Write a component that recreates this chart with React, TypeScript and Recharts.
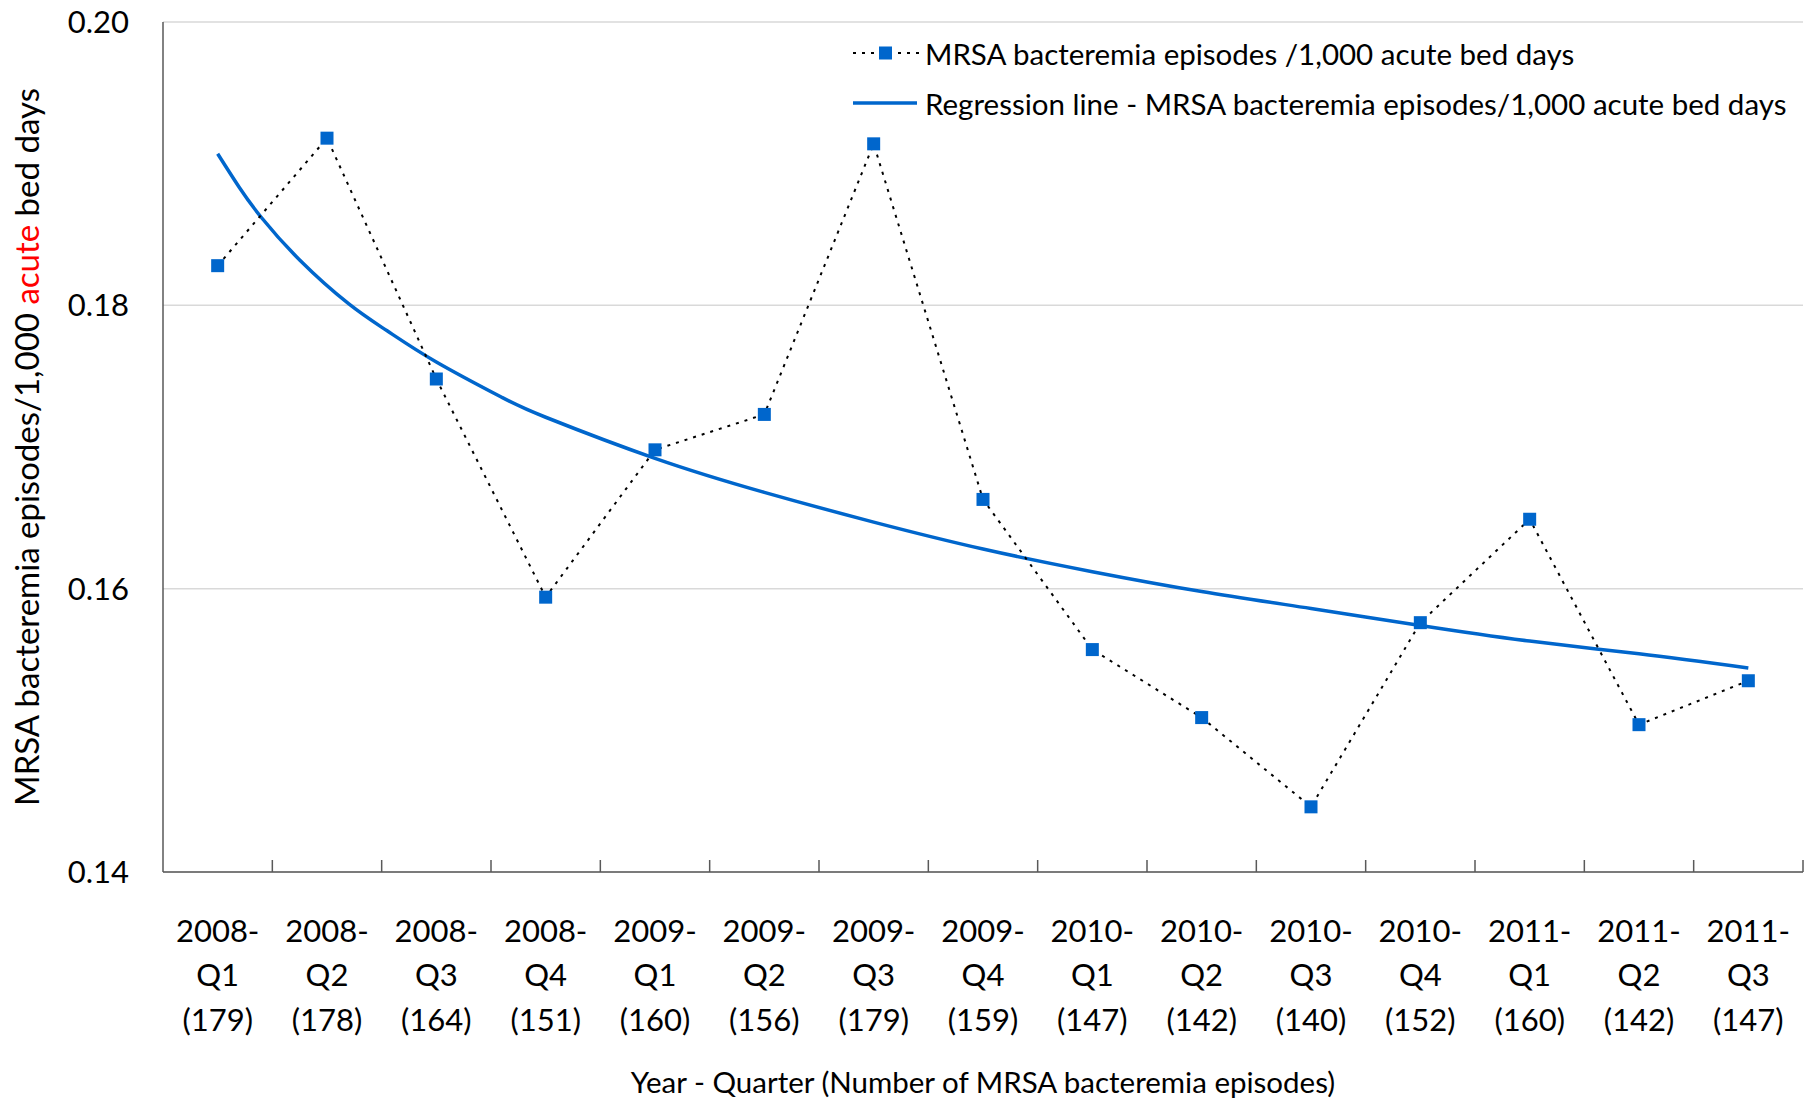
import { CartesianGrid, Legend, Line, LineChart, XAxis, YAxis } from 'recharts';

const YEARS = ['2008', '2008', '2008', '2008', '2009', '2009', '2009', '2009', '2010', '2010', '2010', '2010', '2011', '2011', '2011'];
const QUARTERS = ['Q1', 'Q2', 'Q3', 'Q4', 'Q1', 'Q2', 'Q3', 'Q4', 'Q1', 'Q2', 'Q3', 'Q4', 'Q1', 'Q2', 'Q3'];
const EPISODES = [179, 178, 164, 151, 160, 156, 179, 159, 147, 142, 140, 152, 160, 142, 147];

// episodes per 1,000 acute bed days
const RATE = [0.1828, 0.1918, 0.1748, 0.1594, 0.1698, 0.1723, 0.1914, 0.1663, 0.1557, 0.1509, 0.1446, 0.1576, 0.1649, 0.1504, 0.1535];

// regression curve (denser where it bends most)
const REG_X = [1, 1.2, 1.4, 1.75, 2.2, 2.55, 3, 3.6, 4, 5, 6, 7, 8, 9, 10, 11, 12, 13, 14, 15];
const REG_Y = [0.1907, 0.1883, 0.1862, 0.1832, 0.1801, 0.1782, 0.176, 0.1735, 0.1721, 0.1692, 0.1668, 0.1647, 0.1628, 0.1612, 0.1598, 0.1586, 0.1574, 0.1563, 0.1554, 0.1544];

const Y_TICKS = [0.14, 0.16, 0.18, 0.2];
const X_TICKS = [1, 2, 3, 4, 5, 6, 7, 8, 9, 10, 11, 12, 13, 14, 15];
const X_BOUNDS = [1.5, 2.5, 3.5, 4.5, 5.5, 6.5, 7.5, 8.5, 9.5, 10.5, 11.5, 12.5, 13.5, 14.5, 15.5];

const FONT = 'Lato, "Open Sans", sans-serif';
const BLUE = '#0066cc';
const AXIS = '#595959';

const data = YEARS.map((year, i) => ({
  idx: i + 1,
  year,
  quarter: QUARTERS[i],
  episodes: EPISODES[i],
  rate: RATE[i]
}));

const regData = REG_X.map((x, i) => ({ idx: x, reg: REG_Y[i] }));

function QuarterTick(props: any) {
  const { x, y, payload } = props;
  const row = data[payload.value - 1];
  if (!row) return null;
  return (
    <g fontFamily={FONT} fontSize={31} fill="#000">
      <text x={x} y={y + 58} textAnchor="middle" dominantBaseline="central">{row.year}-</text>
      <text x={x} y={y + 102} textAnchor="middle" dominantBaseline="central">{row.quarter}</text>
      <text x={x} y={y + 147} textAnchor="middle" dominantBaseline="central">({row.episodes})</text>
    </g>
  );
}

function SquareDot(props: any) {
  const { cx, cy } = props;
  if (cx == null || cy == null) return null;
  return <rect x={cx - 6.5} y={cy - 6.5} width={13} height={13} fill={BLUE} />;
}

function NoTick() {
  return <g />;
}

function YTitle(props: any) {
  const vb = props.viewBox ?? { x: 0, y: 22, width: 163, height: 850 };
  const cx = vb.x + 26;
  const cy = vb.y + vb.height / 2;
  return (
    <text
      x={cx}
      y={cy}
      transform={`rotate(-90 ${cx} ${cy})`}
      textAnchor="middle"
      dominantBaseline="central"
      fontFamily={FONT}
      fontSize={33}
      fill="#000"
    >
      MRSA bacteremia episodes/1,000 <tspan fill="#ff0000">acute</tspan> bed days
    </text>
  );
}

function XTitle(props: any) {
  const vb = props.viewBox ?? { x: 163, y: 872, width: 1640, height: 227 };
  return (
    <text
      x={vb.x + vb.width / 2}
      y={vb.y + 209}
      textAnchor="middle"
      dominantBaseline="central"
      fontFamily={FONT}
      fontSize={29.5}
      fill="#000"
    >
      Year - Quarter (Number of MRSA bacteremia episodes)
    </text>
  );
}

function LegendBox() {
  const row = { display: 'flex', alignItems: 'center', height: 50 } as const;
  return (
    <div style={{ fontFamily: FONT, fontSize: 29.5, color: '#000', whiteSpace: 'nowrap' }}>
      <div style={row}>
        <svg width={66} height={20}>
          <line x1={0} y1={10} x2={66} y2={10} stroke="#000" strokeWidth={2} strokeDasharray="3 6" />
          <rect x={26} y={3.5} width={13} height={13} fill={BLUE} />
        </svg>
        <span style={{ marginLeft: 6 }}>MRSA bacteremia episodes /1,000 acute bed days</span>
      </div>
      <div style={row}>
        <svg width={66} height={20}>
          <line x1={0} y1={10} x2={64} y2={10} stroke={BLUE} strokeWidth={3.5} />
        </svg>
        <span style={{ marginLeft: 6 }}>Regression line - MRSA bacteremia episodes/1,000 acute bed days</span>
      </div>
    </div>
  );
}

export default function App() {
  return (
    <div style={{ position: 'absolute', left: 0, top: 0, width: 1812, height: 1099, background: '#fff' }}>
      <LineChart width={1812} height={1099} data={data} margin={{ top: 22, right: 9, bottom: 0, left: 0 }}>
        <CartesianGrid vertical={false} stroke="#d9d9d9" strokeWidth={1.5} />
        <XAxis
          dataKey="idx"
          type="number"
          domain={[0.5, 15.5]}
          ticks={X_TICKS}
          interval={0}
          height={227}
          tickLine={false}
          tickSize={0}
          tickMargin={0}
          stroke={AXIS}
          strokeWidth={1.5}
          tick={<QuarterTick />}
          label={{ content: <XTitle /> } as any}
        />
        <XAxis
          xAxisId="bounds"
          dataKey="idx"
          type="number"
          domain={[0.5, 15.5]}
          ticks={X_BOUNDS}
          interval={0}
          height={30}
          mirror
          tick={<NoTick />}
          axisLine={false}
          tickSize={12}
          stroke={AXIS}
          strokeWidth={1.5}
        />
        <YAxis
          domain={[0.14, 0.2]}
          ticks={Y_TICKS}
          interval={0}
          width={163}
          tickLine={false}
          tickSize={0}
          tickMargin={34}
          tickFormatter={(v: number) => v.toFixed(2)}
          tick={{ fontSize: 31, fontFamily: FONT, fill: '#000' }}
          stroke={AXIS}
          strokeWidth={1.5}
          label={{ content: <YTitle /> } as any}
        />
        <YAxis
          yAxisId="marks"
          domain={[0.14, 0.2]}
          ticks={Y_TICKS}
          interval={0}
          width={30}
          mirror
          tick={<NoTick />}
          axisLine={false}
          tickSize={12}
          stroke={AXIS}
          strokeWidth={1.5}
        />
        <Legend
          layout="vertical"
          align="center"
          verticalAlign="middle"
          content={<LegendBox />}
          wrapperStyle={{ left: 853, top: 28, width: 'auto' }}
        />
        <Line
          data={regData}
          dataKey="reg"
          type="natural"
          stroke={BLUE}
          strokeWidth={3.5}
          dot={false}
          activeDot={false}
          isAnimationActive={false}
        />
        <Line
          dataKey="rate"
          type="linear"
          stroke="#000"
          strokeWidth={2}
          strokeDasharray="3 6"
          dot={<SquareDot />}
          activeDot={false}
          isAnimationActive={false}
        />
      </LineChart>
    </div>
  );
}
